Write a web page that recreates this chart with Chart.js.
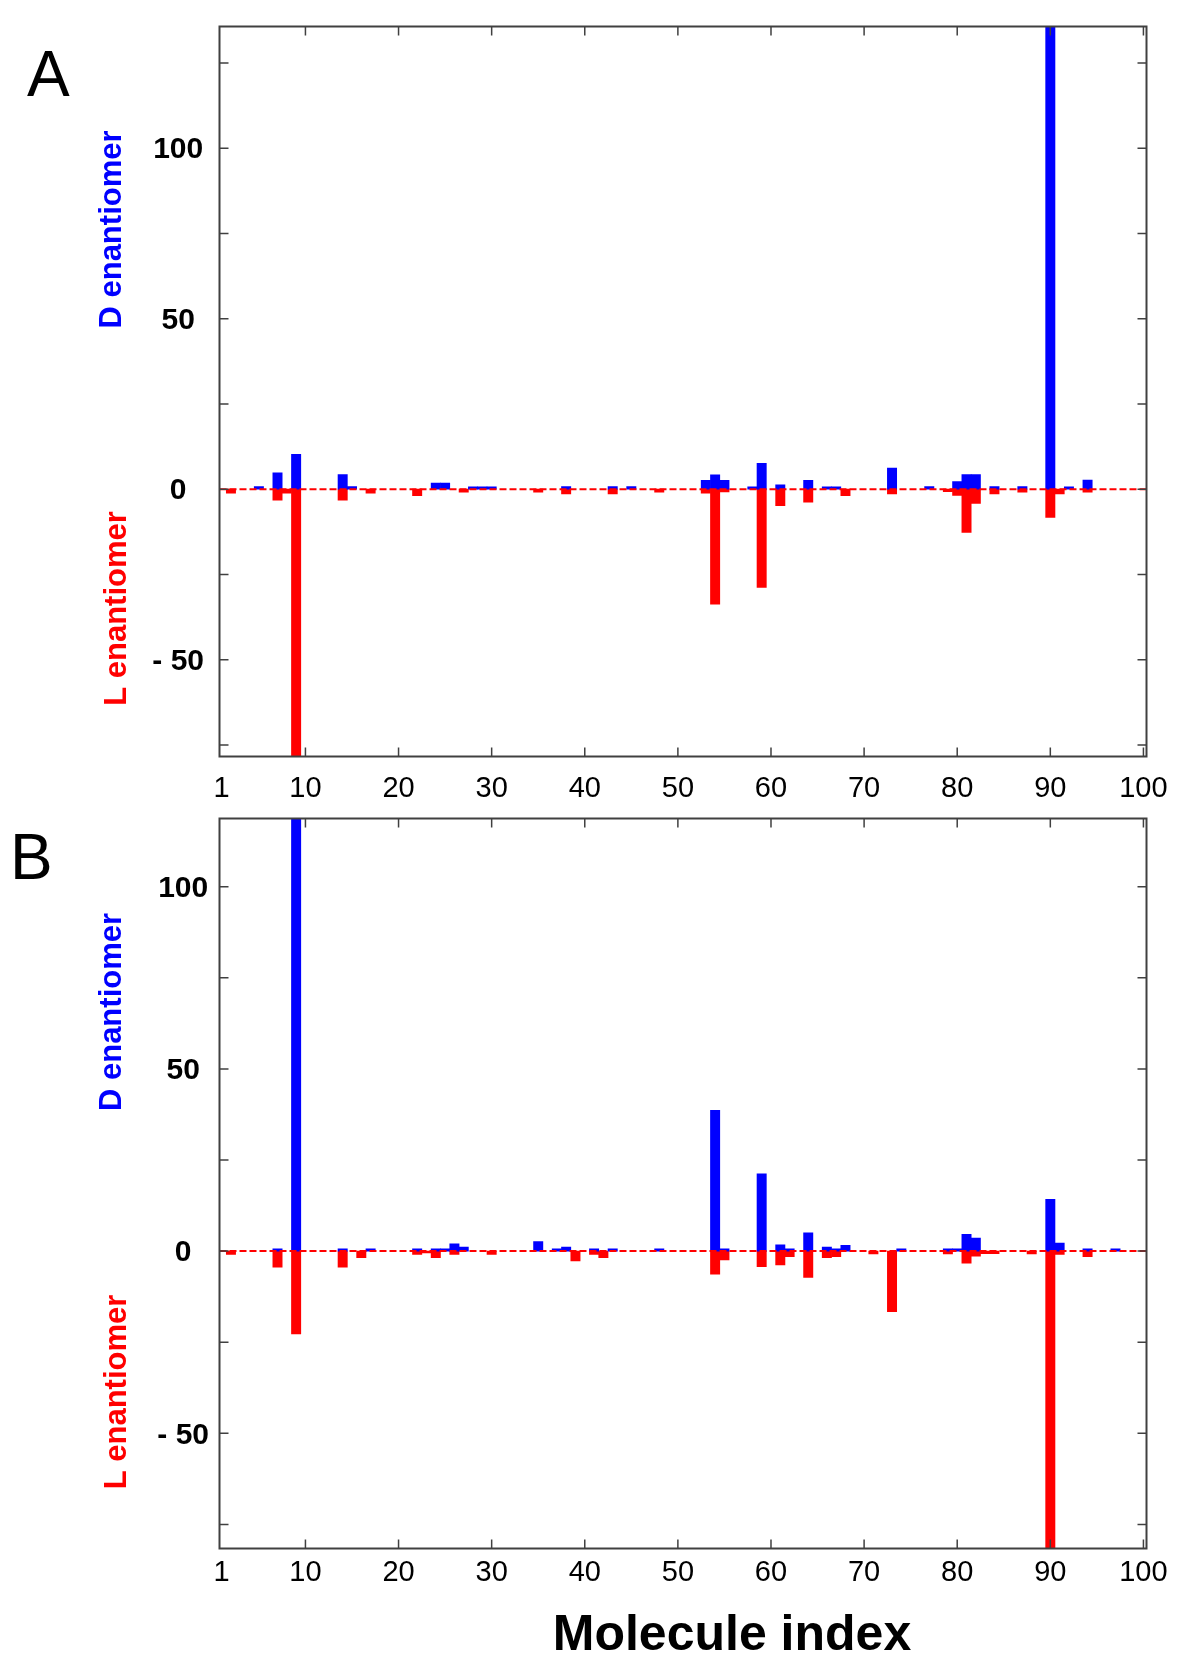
<!DOCTYPE html>
<html>
<head>
<meta charset="utf-8">
<script src="https://cdn.jsdelivr.net/npm/chart.js@4.4.1/dist/chart.umd.min.js"></script>
<style>
  html, body { margin: 0; padding: 0; background: #fff; }
  #wrap { position: relative; width: 1200px; height: 1671px; }
  canvas { position: absolute; left: 0; }
  #chartA { top: 0; }
  #chartB { top: 805px; }
</style>
</head>
<body>
<div id="wrap">
  <canvas id="chartA" width="1200" height="805"></canvas>
  <canvas id="chartB" width="1200" height="866"></canvas>
</div>
<script>
// Axis ticks
const xTicks = [1, 10, 20, 30, 40, 50, 60, 70, 80, 90, 100];
const yTicks = [-75, -50, -25, 0, 25, 50, 75, 100, 125];

// Panel A - D enantiomer (blue, up)
const aDIndex = [5, 7, 9, 14, 15, 24, 25, 28, 29, 30, 38, 43, 45, 53, 54, 55, 58, 59, 61, 64, 66, 67, 73, 77, 80, 81, 82, 84, 87, 90, 92, 94];
const aDValue = [0.8, 4.8, 10.2, 4.3, 0.8, 1.8, 1.8, 0.7, 0.7, 0.7, 0.8, 0.8, 0.8, 2.6, 4.2, 2.6, 0.7, 7.6, 1.3, 2.6, 0.7, 0.7, 6.2, 0.8, 2.2, 4.3, 4.3, 0.8, 0.8, 140, 0.7, 2.7];
// Panel A - L enantiomer (red, down)
const aLIndex = [2, 7, 8, 9, 14, 17, 22, 27, 35, 38, 43, 48, 53, 54, 55, 59, 61, 64, 68, 73, 79, 80, 81, 82, 84, 87, 90, 91, 94];
const aLValue = [-1.2, -3.2, -1.2, -80, -3.2, -1.2, -1.9, -0.9, -0.9, -1.4, -1.4, -0.9, -1.2, -33.7, -0.8, -28.8, -4.8, -3.8, -1.9, -1.4, -0.7, -1.8, -12.7, -4.2, -1.4, -0.9, -8.3, -1.4, -0.9];

// Panel B - D enantiomer
const bDIndex = [7, 9, 14, 17, 22, 24, 25, 26, 27, 35, 37, 38, 41, 43, 48, 54, 55, 59, 61, 62, 64, 66, 67, 68, 74, 79, 80, 81, 82, 90, 91, 94, 97];
const bDValue = [0.6, 125, 0.6, 0.6, 0.6, 0.6, 0.6, 2.0, 1.1, 2.6, 0.6, 1.1, 0.6, 0.6, 0.6, 38.6, 0.6, 21.2, 1.7, 0.6, 5.0, 1.1, 0.6, 1.6, 0.6, 0.6, 0.6, 4.6, 3.6, 14.2, 2.2, 0.6, 0.6];
// Panel B - L enantiomer
const bLIndex = [2, 7, 9, 14, 16, 22, 23, 24, 26, 30, 39, 41, 42, 54, 55, 59, 61, 62, 64, 66, 67, 71, 73, 79, 81, 82, 83, 84, 88, 90, 91, 94];
const bLValue = [-0.9, -4.4, -22.7, -4.4, -1.8, -0.9, -0.5, -1.8, -0.9, -0.9, -2.7, -0.9, -1.8, -6.3, -2.4, -4.3, -3.8, -1.5, -7.2, -1.8, -1.5, -0.8, -16.6, -0.8, -3.3, -1.4, -0.7, -0.7, -0.8, -85, -0.9, -1.5];

Chart.defaults.font.family = '"Liberation Sans", Arial, sans-serif';

const toPoints = (idx, val) => idx.map((x, i) => ({ x, y: val[i] }));

function drawRotated(ctx, text, x, y, color) {
  ctx.save();
  ctx.translate(x, y);
  ctx.rotate(-Math.PI / 2);
  ctx.fillStyle = color;
  ctx.textAlign = "center";
  ctx.textBaseline = "alphabetic";
  ctx.fillText(text, 0, 0);
  ctx.restore();
}

// frame, inward ticks, dashed zero line and the free text
function panelDecor(cfg) {
  return {
    id: "panelDecor",
    afterDatasetsDraw(chart) {
      const { ctx, chartArea: a } = chart;
      const x = chart.scales.x;
      const y = chart.scales.y;
      ctx.save();

      const y0 = y.getPixelForValue(0);
      ctx.strokeStyle = "#ff0000";
      ctx.lineWidth = 2;
      ctx.setLineDash([7, 3]);
      ctx.beginPath();
      ctx.moveTo(a.left, y0);
      ctx.lineTo(a.right, y0);
      ctx.stroke();
      ctx.setLineDash([]);

      ctx.strokeStyle = "#404040";
      ctx.lineWidth = 2;
      ctx.strokeRect(a.left, a.top, a.right - a.left, a.bottom - a.top);

      ctx.lineWidth = 1.5;
      ctx.beginPath();
      yTicks.forEach((v) => {
        if (v <= y.min || v >= y.max) return;
        const py = y.getPixelForValue(v);
        ctx.moveTo(a.left, py);
        ctx.lineTo(a.left + 9, py);
        ctx.moveTo(a.right - 9, py);
        ctx.lineTo(a.right, py);
      });
      xTicks.forEach((v) => {
        if (v <= 1) return;
        const px = x.getPixelForValue(v);
        ctx.moveTo(px, a.bottom);
        ctx.lineTo(px, a.bottom - 9);
        ctx.moveTo(px, a.top);
        ctx.lineTo(px, a.top + 9);
      });
      ctx.stroke();
      ctx.restore();
    },
    afterDraw(chart) {
      const { ctx } = chart;
      ctx.save();
      ctx.font = '64px "Liberation Sans", Arial, sans-serif';
      ctx.fillStyle = "#000";
      ctx.textAlign = "left";
      ctx.textBaseline = "alphabetic";
      ctx.fillText(cfg.letter, cfg.letterX, cfg.letterY);

      ctx.font = 'bold 31px "Liberation Sans", Arial, sans-serif';
      drawRotated(ctx, "D enantiomer", 120.5, cfg.dTitleY, "#0000ff");
      drawRotated(ctx, "L enantiomer", 125.5, cfg.lTitleY, "#ff0000");

      if (cfg.xTitleY) {
        ctx.font = 'bold 50px "Liberation Sans", Arial, sans-serif';
        ctx.fillStyle = "#000";
        ctx.textAlign = "center";
        ctx.textBaseline = "middle";
        ctx.fillText("Molecule index", 732, cfg.xTitleY);
      }
      ctx.restore();
    },
  };
}

function createPanel(canvas, cfg) {
  return new Chart(canvas, {
    type: "bar",
    data: {
      datasets: [
        { label: "D enantiomer", data: toPoints(cfg.dIndex, cfg.dValue), backgroundColor: "#0000ff" },
        { label: "L enantiomer", data: toPoints(cfg.lIndex, cfg.lValue), backgroundColor: "#ff0000" },
      ],
    },
    options: {
      responsive: false,
      animation: false,
      devicePixelRatio: 1,
      layout: { padding: { top: cfg.top, right: 53.5, left: 0, bottom: 0 } },
      plugins: { legend: { display: false }, tooltip: { enabled: false } },
      datasets: { bar: { categoryPercentage: 1, barPercentage: 1 } },
      scales: {
        x: {
          type: "linear",
          stacked: true,
          offset: false,
          min: 0.77,
          max: 100.33,
          afterBuildTicks: (s) => {
            s.ticks = xTicks.map((v) => ({ value: v }));
          },
          afterFit: (s) => {
            s.height = cfg.xAxisHeight;
            s.paddingLeft = 0;
            s.paddingRight = 0;
          },
          grid: { display: false, drawTicks: false },
          border: { display: false },
          ticks: {
            padding: cfg.xPad,
            autoSkip: false,
            maxRotation: 0,
            color: "#000",
            font: { size: 29 },
            callback: (v) => String(v),
          },
        },
        y: {
          stacked: true,
          min: cfg.yMin,
          max: cfg.yMax,
          afterBuildTicks: (s) => {
            s.ticks = yTicks.filter((v) => v >= s.min && v <= s.max).map((v) => ({ value: v }));
          },
          afterFit: (s) => {
            s.width = 219.5;
            s.paddingTop = 0;
            s.paddingBottom = 0;
          },
          grid: { display: false, drawTicks: false },
          border: { display: false },
          ticks: {
            crossAlign: "center",
            padding: cfg.yPad,
            labelOffset: 2,
            autoSkip: false,
            color: "#000",
            font: { size: 30, weight: "bold" },
            callback: (v) => (v % 50 === 0 ? (v < 0 ? "- " + Math.abs(v) : String(v)) : ""),
          },
        },
      },
    },
    plugins: [panelDecor(cfg)],
  });
}

const chartA = createPanel(document.getElementById("chartA"), {
  dIndex: aDIndex, dValue: aDValue, lIndex: aLIndex, lValue: aLValue,
  top: 26.5, xAxisHeight: 805 - 756.5, xPad: 15.5, yPad: 15.5,
  yMin: -78.4, yMax: 135.7,
  letter: "A", letterX: 27, letterY: 96,
  dTitleY: 229.5, lTitleY: 608.5,
});

const chartB = createPanel(document.getElementById("chartB"), {
  dIndex: bDIndex, dValue: bDValue, lIndex: bLIndex, lValue: bLValue,
  top: 13.5, xAxisHeight: 866 - 743.5, xPad: 7.5, yPad: 10.5,
  yMin: -81.6, yMax: 118.7,
  letter: "B", letterX: 10, letterY: 74,
  dTitleY: 207, lTitleY: 587, xTitleY: 831,
});
</script>
</body>
</html>
